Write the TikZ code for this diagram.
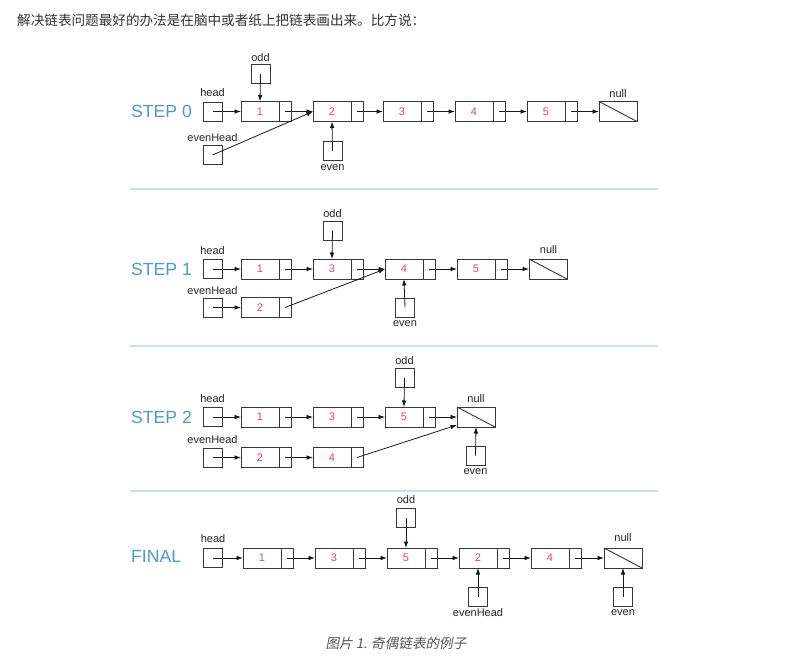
\documentclass[tikz,border=0pt]{standalone}
\usepackage{fontspec}
\setmainfont{Liberation Sans}
\newfontfamily\cjk{Noto Sans CJK SC}
\newfontfamily\cjkit[FakeSlant=0.2]{Noto Sans CJK SC}
\usetikzlibrary{arrows.meta}
\definecolor{numc}{RGB}{221,68,125}
\definecolor{stepc}{RGB}{76,156,201}
\definecolor{sepc}{RGB}{198,225,244}
\definecolor{boxc}{RGB}{55,55,55}
\definecolor{titlec}{RGB}{51,51,51}
\definecolor{capc}{RGB}{85,85,85}
\newcommand\labfont{\fontsize{11}{13}\selectfont}
\newcommand\stepfont{\fontsize{17.6}{20}\selectfont}
\tikzset{
  ptrbox/.style={draw=boxc, line width=0.9pt, minimum width=19pt, minimum height=19pt, inner sep=0pt, outer sep=0pt},
  cellm/.style={draw=boxc, line width=0.9pt, minimum width=38pt, minimum height=20pt, inner sep=0pt, outer sep=0pt, text=numc, font=\labfont},
  cellp/.style={draw=boxc, line width=0.9pt, minimum width=12pt, minimum height=20pt, inner sep=0pt, outer sep=0pt},
  nullbox/.style={draw=boxc, line width=0.9pt, minimum width=38pt, minimum height=20pt, inner sep=0pt, outer sep=0pt},
  lbl/.style={font=\labfont, inner sep=0pt, text=black!85},
  steplbl/.style={font=\stepfont, text=stepc, anchor=west, inner sep=0pt},
  arr/.style={-{Latex[length=6.5pt,width=4.6pt]}, line width=0.8pt, draw=black!90},
  sep/.style={draw=sepc, line width=1.4pt},
}
\newcommand\llnode[4]{%
  \node[cellm, anchor=west] (#1) at (#2,#3) {#4};
  \node[cellp, anchor=west] (#1p) at (#1.east) {};
}
\newcommand\nullnode[3]{%
  \node[nullbox, anchor=west] (#1) at (#2,#3) {};
  \draw[boxc, line width=0.9pt] (#1.north west) -- (#1.south east);
}
\begin{document}
\begin{tikzpicture}[x=1pt,y=-1pt]
\useasboundingbox (0,0) rectangle (791,658);
\fill[white] (0,0) rectangle (791,658);

\node[anchor=west, inner sep=0pt, text=titlec, font=\cjk\fontsize{13.6}{16}\selectfont] (title) at (17,20) {解决链表问题最好的办法是在脑中或者纸上把链表画出来。比方说：};

% separators
\coordinate (s1a) at (130,189); \coordinate (s1b) at (658,189);
\coordinate (s2a) at (130,346); \coordinate (s2b) at (658,346);
\coordinate (s3a) at (130,491); \coordinate (s3b) at (658,491);
\draw[sep] (s1a) -- (s1b);
\draw[sep] (s2a) -- (s2b);
\draw[sep] (s3a) -- (s3b);

% ---------------- STEP 0
\node[steplbl] (st0) at (131,111.5) {STEP 0};
\node[ptrbox] (ah) at (212.5,111.5) {};
\node[lbl] (ahl) at (212.5,93) {head};
\llnode{a1}{241}{111.5}{1}
\llnode{a2}{313}{111.5}{2}
\llnode{a3}{383}{111.5}{3}
\llnode{a4}{455}{111.5}{4}
\llnode{a5}{527}{111.5}{5}
\nullnode{anull}{599}{111.5}
\node[lbl] (anl) at (618,94) {null};
\node[ptrbox] (aodd) at (260.5,74) {};
\node[lbl] (aoddl) at (260.5,57.5) {odd};
\node[ptrbox] (aeh) at (212.5,155) {};
\node[lbl] (aehl) at (212.5,138) {evenHead};
\node[ptrbox] (aev) at (332.5,151) {};
\node[lbl] (aevl) at (332.5,168) {even};
\draw[arr] (ah.center) -- (a1.west);
\draw[arr] (a1p.center) -- (a2.west);
\draw[arr] (a2p.center) -- (a3.west);
\draw[arr] (a3p.center) -- (a4.west);
\draw[arr] (a4p.center) -- (a5.west);
\draw[arr] (a5p.center) -- (anull.west);
\draw[arr] (aodd.center) -- (a1.north);
\draw[arr] (aeh.center) -- (a2.west);
\draw[arr] (aev.center) -- (a2.south);

% ---------------- STEP 1
\node[steplbl] (st1) at (131,269) {STEP 1};
\node[ptrbox] (bh) at (212.5,269) {};
\node[lbl] (bhl) at (212.5,251) {head};
\llnode{b1}{241}{269}{1}
\llnode{b3}{313}{269}{3}
\llnode{b4}{385}{269}{4}
\llnode{b5}{457}{269}{5}
\nullnode{bnull}{529}{269}
\node[lbl] (bnl) at (548.5,250) {null};
\node[ptrbox] (bodd) at (332.5,230.5) {};
\node[lbl] (boddl) at (332.5,213.5) {odd};
\node[ptrbox] (beh) at (212.5,307.5) {};
\node[lbl] (behl) at (212.5,291) {evenHead};
\llnode{b2}{241}{307.5}{2}
\node[ptrbox] (bev) at (405,307.5) {};
\node[lbl] (bevl) at (405,324) {even};
\draw[arr] (bh.center) -- (b1.west);
\draw[arr] (b1p.center) -- (b3.west);
\draw[arr] (b3p.center) -- (b4.west);
\draw[arr] (b4p.center) -- (b5.west);
\draw[arr] (b5p.center) -- (bnull.west);
\draw[arr] (beh.center) -- (b2.west);
\draw[arr] (b2p.center) -- (b4.west);
\draw[arr] (bodd.center) -- (b3.north);
\draw[arr] (bev.center) -- (b4.south);

% ---------------- STEP 2
\node[steplbl] (st2) at (131,417) {STEP 2};
\node[ptrbox] (ch) at (212.5,417) {};
\node[lbl] (chl) at (212.5,399) {head};
\llnode{c1}{241}{417}{1}
\llnode{c3}{313}{417}{3}
\llnode{c5}{385}{417}{5}
\nullnode{cnull}{457}{417}
\node[lbl] (cnl) at (476,399) {null};
\node[ptrbox] (codd) at (404.5,378) {};
\node[lbl] (coddl) at (404.5,361) {odd};
\node[ptrbox] (ceh) at (212.5,457.5) {};
\node[lbl] (cehl) at (212.5,440) {evenHead};
\llnode{c2}{241}{457.5}{2}
\llnode{c4}{313}{457.5}{4}
\node[ptrbox] (cev) at (475.5,455.5) {};
\node[lbl] (cevl) at (475.5,471.5) {even};
\draw[arr] (ch.center) -- (c1.west);
\draw[arr] (c1p.center) -- (c3.west);
\draw[arr] (c3p.center) -- (c5.west);
\draw[arr] (c5p.center) -- (cnull.west);
\draw[arr] (ceh.center) -- (c2.west);
\draw[arr] (c2p.center) -- (c4.west);
\draw[arr] (c4p.center) -- ([yshift=-8pt]cnull.west);
\draw[arr] (codd.center) -- (c5.north);
\draw[arr] (cev.center) -- (cnull.south);

% ---------------- FINAL
\node[steplbl] (st3) at (131,556) {FINAL};
\node[ptrbox] (dh) at (213,558) {};
\node[lbl] (dhl) at (213,539) {head};
\llnode{d1}{243}{558}{1}
\llnode{d3}{315}{558}{3}
\llnode{d5}{387}{558}{5}
\llnode{d2}{459}{558}{2}
\llnode{d4}{531}{558}{4}
\nullnode{dnull}{604}{558}
\node[lbl] (dnl) at (623,538) {null};
\node[ptrbox] (dodd) at (406,517.5) {};
\node[lbl] (doddl) at (406,500) {odd};
\node[ptrbox] (deh) at (478,597) {};
\node[lbl] (dehl) at (478,613) {evenHead};
\node[ptrbox] (dev) at (623,597) {};
\node[lbl] (devl) at (623,613) {even};
\draw[arr] (dh.center) -- (d1.west);
\draw[arr] (d1p.center) -- (d3.west);
\draw[arr] (d3p.center) -- (d5.west);
\draw[arr] (d5p.center) -- (d2.west);
\draw[arr] (d2p.center) -- (d4.west);
\draw[arr] (d4p.center) -- (dnull.west);
\draw[arr] (dodd.center) -- (d5.north);
\draw[arr] (deh.center) -- (d2.south);
\draw[arr] (dev.center) -- (dnull.south);

\node[inner sep=0pt, text=capc, font=\cjkit\fontsize{13.6}{16}\selectfont] (cap) at (396,643) {图片 1. 奇偶链表的例子};
\end{tikzpicture}
\end{document}
